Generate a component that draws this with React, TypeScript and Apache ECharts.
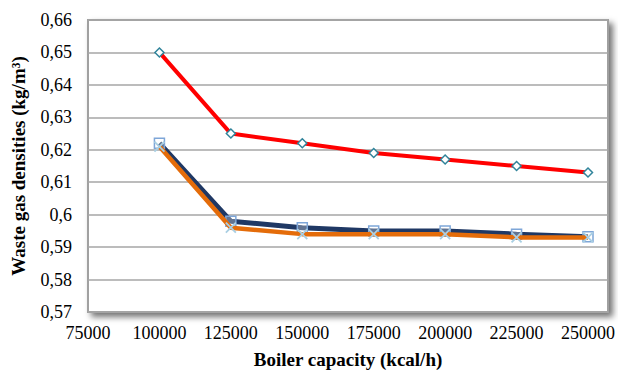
import React, { useEffect, useRef } from "react";
import * as echarts from "echarts";

const capacities = [100000, 125000, 150000, 175000, 200000, 225000, 250000];
const redSeries = [0.65, 0.625, 0.622, 0.619, 0.617, 0.615, 0.613];
const navySeries = [0.622, 0.598, 0.596, 0.595, 0.595, 0.594, 0.5932];
const orangeSeries = [0.621, 0.596, 0.594, 0.594, 0.594, 0.593, 0.593];
const xMin = 75000;
const xMax = 257000;
const xStep = 25000;
const yMin = 0.57;
const yMax = 0.66;
const yStep = 0.01;
const xTitle = "Boiler capacity (kcal/h)";
const yTitle = "Waste gas densities (kg/m³)";

const pairs = (vals: number[]) => capacities.map((c, i) => [c, vals[i]]);

const FONT = "serif";

export default function App() {
  const ref = useRef<HTMLDivElement>(null);
  useEffect(() => {
    if (!ref.current) return;
    const chart = echarts.init(ref.current, undefined, { renderer: "svg" });
    chart.setOption({
      animation: false,
      backgroundColor: "#ffffff",
      textStyle: { fontFamily: FONT },
      grid: {
        left: 88,
        right: 10,
        top: 20,
        bottom: 65,
        show: true,
        backgroundColor: "#ffffff",
        borderColor: "#a0a0a0",
        borderWidth: 2,
        shadowColor: "rgba(0,0,0,0.55)",
        shadowBlur: 6,
        shadowOffsetX: 4,
        shadowOffsetY: 4,
      },
      xAxis: {
        type: "value",
        min: xMin,
        max: xMax,
        interval: xStep,
        name: xTitle,
        nameLocation: "middle",
        nameGap: 38,
        nameTextStyle: { fontFamily: FONT, fontSize: 19, fontWeight: "bold", color: "#000" },
        axisLine: { show: false },
        axisTick: { show: false },
        splitLine: { show: false },
        axisLabel: {
          fontFamily: FONT,
          fontSize: 18,
          color: "#000",
          margin: 12,
          showMaxLabel: false,
          formatter: (v: number) => String(v),
        },
      },
      yAxis: {
        type: "value",
        min: yMin,
        max: yMax,
        interval: yStep,
        name: yTitle,
        nameLocation: "middle",
        nameGap: 60,
        nameTextStyle: { fontFamily: FONT, fontSize: 19, fontWeight: "bold", color: "#000" },
        axisLine: { show: false },
        axisTick: { show: false },
        splitLine: { show: true, lineStyle: { color: "#a6a6a6", width: 1.5 } },
        axisLabel: {
          fontFamily: FONT,
          fontSize: 18,
          color: "#000",
          margin: 16,
          formatter: (v: number) => String(Number(v.toFixed(2))).replace(".", ","),
        },
      },
      series: [
        {
          type: "line",
          data: pairs(redSeries),
          lineStyle: { color: "#ff0000", width: 4 },
          symbol: "diamond",
          symbolSize: 9,
          itemStyle: { color: "#ffffff", borderColor: "#31849b", borderWidth: 1.5 },
          z: 4,
        },
        {
          type: "line",
          data: pairs(navySeries),
          lineStyle: { color: "#1f3864", width: 5 },
          symbol: "rect",
          symbolSize: 10,
          itemStyle: { color: "rgba(255,255,255,0.3)", borderColor: "#7ea6d8", borderWidth: 1.5 },
          z: 2,
        },
        {
          type: "line",
          data: pairs(orangeSeries),
          lineStyle: { color: "#e46c0a", width: 4.5 },
          symbol: "path://M0,0L10,10M10,0L0,10",
          symbolSize: 10,
          itemStyle: { color: "rgba(0,0,0,0)", borderColor: "#a9cfe3", borderWidth: 1.8 },
          z: 3,
        },
      ],
    });
    return () => chart.dispose();
  }, []);
  return (
    <div
      ref={ref}
      style={{ position: "absolute", left: 0, top: 0, width: 618, height: 377 }}
    />
  );
}
